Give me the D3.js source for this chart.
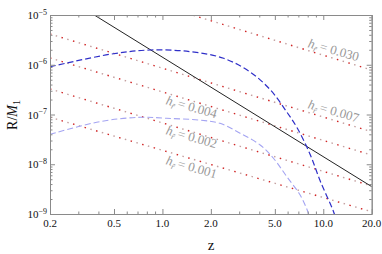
<!DOCTYPE html>
<html><head><meta charset="utf-8">
<script src="https://cdn.jsdelivr.net/npm/d3@7"></script>
<style>body{margin:0;background:#fff}svg{display:block}</style>
</head><body>
<script>
// ---- data ----
const xTickValues = [0.2, 0.5, 1, 2, 5, 10, 20];
const xTickLabels = ["0.2", "0.5", "1.0", "2.0", "5.0", "10.0", "20.0"];
const yTickValues = [1e-5, 1e-6, 1e-7, 1e-8, 1e-9];
const yTickExponents = ["−5", "−6", "−7", "−8", "−9"];

// h_r lines (power laws): R at z = 0.2 and z = 20
const hValues = ["0.030", "0.007", "0.004", "0.002", "0.001"];
const hLineZ = [0.2, 20];
const hLineStartR = [7.5e-5, 4.15e-6, 1.37e-6, 3.26e-7, 8.8e-8];
const hLineEndR = [7.84e-7, 4.5e-8, 1.53e-8, 3.66e-9, 1.11e-9];
// label anchors (data space)
const hLabelZ = [7.94, 7.94, 1.04, 1.04, 1.04];
const hLabelR = [2.28e-6, 1.35e-7, 1.63e-7, 4.06e-8, 1.01e-8];

// black solid line
const blackZ = [0.2, 20];
const blackR = [3.55e-5, 3.55e-9];

// dark blue dashed curve
const blueZ = [0.2, 0.47, 0.84, 1.5, 2.4, 3.5, 4.7, 5.9, 6.9, 8.3, 9.6, 11.6, 12.5];
const blueR = [9.1e-7, 1.62e-6, 1.98e-6, 1.83e-6, 1.35e-6, 7.2e-7, 3.1e-7, 1.15e-7, 5.3e-8, 1.55e-8, 4.5e-9, 1.1e-9, 5e-10];

// light blue dashed curve
const lightZ = [0.2, 0.41, 0.73, 1.06, 1.71, 2.28, 3.04, 4.05, 4.9, 5.94, 7.18, 8.09, 8.6];
const lightR = [4.0e-8, 7.2e-8, 8.8e-8, 8.4e-8, 7.7e-8, 6.65e-8, 4.2e-8, 2.44e-8, 1.32e-8, 5.6e-9, 2.4e-9, 1.03e-9, 5e-10];

// ---- layout ----
const W = 382, H = 254;
const L = 50, R_ = 371.7, T = 15, B = 214;
const x = d3.scaleLog().domain([0.2, 20]).range([L, R_]);
const y = d3.scaleLog().domain([1e-9, 1e-5]).range([B, T]);

const svg = d3.select("body").append("svg").attr("width", W).attr("height", H)
  .style("font-family", "'Liberation Serif','Times New Roman',serif");

svg.append("defs").append("clipPath").attr("id", "clip").append("rect")
  .attr("x", L).attr("y", T).attr("width", R_ - L).attr("height", B - T);

const g = svg.append("g").attr("clip-path", "url(#clip)");
const line = d3.line().x(d => x(d[0])).y(d => y(d[1]));
const curve = d3.line().x(d => x(d[0])).y(d => y(d[1])).curve(d3.curveCatmullRom.alpha(0.5));

// dotted h lines
hValues.forEach((h, i) => {
  const pts = [[hLineZ[0], hLineStartR[i]], [hLineZ[1], hLineEndR[i]]];
  g.append("path").attr("d", line(pts)).attr("fill", "none")
    .attr("stroke", "#c4a0a0").attr("stroke-width", 1.4).attr("stroke-dasharray", "1.5,10.5").attr("stroke-dashoffset", -6);
  g.append("path").attr("d", line(pts)).attr("fill", "none")
    .attr("stroke", "#d02525").attr("stroke-width", 1.4).attr("stroke-dasharray", "1.5,10.5");
});

// black solid
g.append("path").attr("d", line(blackZ.map((z, i) => [z, blackR[i]])))
  .attr("fill", "none").attr("stroke", "#222").attr("stroke-width", 1);

// blue curves
g.append("path").attr("d", curve(lightZ.map((z, i) => [z, lightR[i]])))
  .attr("fill", "none").attr("stroke", "#a4a4f2").attr("stroke-width", 1.1).attr("stroke-dasharray", "6,3");
g.append("path").attr("d", curve(blueZ.map((z, i) => [z, blueR[i]])))
  .attr("fill", "none").attr("stroke", "#2f2fc8").attr("stroke-width", 1.2).attr("stroke-dasharray", "6,3");

// labels
hValues.forEach((h, i) => {
  const px = x(hLabelZ[i]), py = y(hLabelR[i]);
  const t = svg.append("text").attr("transform", `translate(${px},${py}) rotate(16)`)
    .attr("fill", "#999").attr("font-size", 13);
  t.append("tspan").attr("font-style", "italic").text("h");
  t.append("tspan").attr("font-style", "italic").attr("font-size", 8.5).attr("dy", 3).text("r\u0303");
  t.append("tspan").attr("dy", -3).text("\u2009= " + h);
});

// ---- frame & ticks ----
const frame = "#8a8a8a";
function minorTicks(lo, hi) {
  const out = [];
  for (let e = -10; e <= 2; e++) for (let k = 1; k <= 9; k++) {
    const v = k * Math.pow(10, e);
    if (v > lo * 1.0001 && v < hi * 0.9999) out.push(v);
  }
  return out;
}
const xMinor = minorTicks(0.2, 20).filter(v => !xTickValues.some(t => Math.abs(t - v) / t < 1e-6));
const yMinor = minorTicks(1e-9, 1e-5).filter(v => !yTickValues.some(t => Math.abs(t - v) / t < 1e-6));

function styleAxis(sel) {
  sel.selectAll("path,line").attr("stroke", frame);
  sel.selectAll("text").remove();
}
svg.append("g").attr("transform", `translate(0,${B})`).call(d3.axisBottom(x).tickValues(xTickValues).tickSize(-5).tickSizeOuter(0)).call(styleAxis);
svg.append("g").attr("transform", `translate(0,${B})`).call(d3.axisBottom(x).tickValues(xMinor).tickSize(-2.5).tickSizeOuter(0)).call(styleAxis);
svg.append("g").attr("transform", `translate(0,${T})`).call(d3.axisTop(x).tickValues(xTickValues).tickSize(-5).tickSizeOuter(0)).call(styleAxis);
svg.append("g").attr("transform", `translate(0,${T})`).call(d3.axisTop(x).tickValues(xMinor).tickSize(-2.5).tickSizeOuter(0)).call(styleAxis);
svg.append("g").attr("transform", `translate(${L},0)`).call(d3.axisLeft(y).tickValues(yTickValues).tickSize(-5).tickSizeOuter(0)).call(styleAxis);
svg.append("g").attr("transform", `translate(${L},0)`).call(d3.axisLeft(y).tickValues(yMinor).tickSize(-2.5).tickSizeOuter(0)).call(styleAxis);
svg.append("g").attr("transform", `translate(${R_},0)`).call(d3.axisRight(y).tickValues(yTickValues).tickSize(-5).tickSizeOuter(0)).call(styleAxis);
svg.append("g").attr("transform", `translate(${R_},0)`).call(d3.axisRight(y).tickValues(yMinor).tickSize(-2.5).tickSizeOuter(0)).call(styleAxis);

// tick labels
xTickValues.forEach((v, i) => {
  svg.append("text").attr("x", x(v)).attr("y", 226.5).attr("text-anchor", "middle")
    .attr("font-size", 11).attr("fill", "#111").text(xTickLabels[i]);
});
yTickValues.forEach((v, i) => {
  const t = svg.append("text").attr("x", 47).attr("y", y(v) + 4).attr("text-anchor", "end")
    .attr("font-size", 11).attr("fill", "#111");
  t.append("tspan").text("10");
  t.append("tspan").attr("font-size", 8).attr("dy", -4.5).text(yTickExponents[i]);
});

// axis titles
svg.append("text").attr("x", 211).attr("y", 249.5).attr("text-anchor", "middle")
  .attr("font-size", 15).attr("fill", "#111").text("z");
const yt = svg.append("text").attr("transform", "translate(17,115) rotate(-90)")
  .attr("text-anchor", "middle").attr("font-size", 14).attr("fill", "#111");
yt.append("tspan").text("R/");
yt.append("tspan").attr("font-style", "italic").text("M");
yt.append("tspan").attr("font-size", 10).attr("dy", 3).text("1");
</script>
</body></html>
